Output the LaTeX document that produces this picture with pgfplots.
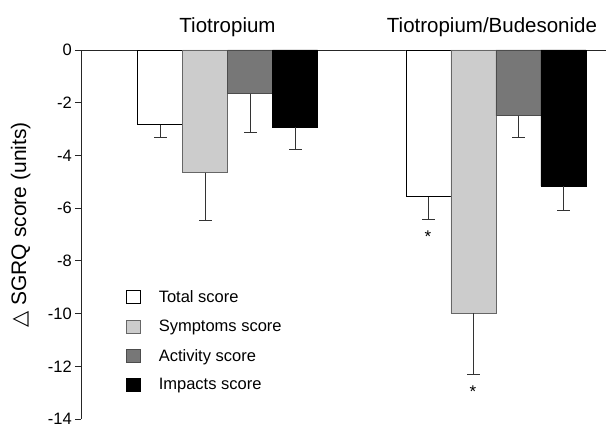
\documentclass[border=0pt]{standalone}
\usepackage{pgfplots}
\pgfplotsset{compat=1.18}
\usepackage{fontspec}
\setmainfont{Liberation Sans}
\newfontfamily\dejavu{DejaVu Sans}
\definecolor{lgray}{HTML}{CCCCCC}
\definecolor{dgray}{HTML}{777777}
\begin{document}
\begin{tikzpicture}[x=1pt,y=1pt]
\useasboundingbox (0,0) rectangle (606,428);
\begin{axis}[
  at={(81pt,9pt)}, anchor=south west, scale only axis,
  width=525pt, height=369pt,
  xmin=0, xmax=11.6667, ymin=-14, ymax=0,
  clip=false,
  axis x line*=top, axis y line*=left,
  axis line style={-, line width=0.8pt, black!85},
  xtick=\empty, ytick={-14,-12,...,0},
  tick align=outside, major tick length=6pt,
  tick style={line width=0.8pt, black!85},
  /pgf/number format/assume math mode=true,
  yticklabel style={font=\fontsize{16.5}{18}\selectfont, inner xsep=3pt, inner ysep=0pt},
  ylabel={{\dejavu △} SGRQ score (units)},
  ylabel style={font=\fontsize{21}{23}\selectfont, at={(axis description cs:-0.115,0.526)}, anchor=center, rotate=0},
  legend image code/.code={\draw[#1,line width=0.6pt] (0pt,-6.5pt) rectangle (14pt,6.5pt);},
  legend style={at={(rel axis cs:0.0857,0.354)}, anchor=north west, draw=none, fill=none,
    inner sep=0pt, font=\fontsize{16.5}{18}\selectfont, row sep=12pt,
    /tikz/every odd column/.append style={column sep=16pt}},
  legend cell align=left,
  error bars/error bar style={line width=0.8pt, black!80},
  error bars/error mark options={rotate=90, mark size=6.5pt, line width=0.8pt, black!80},
]
\addplot[ybar, bar width=45pt, bar shift=0pt, fill=white, draw=black, line width=0.8pt,
  error bars/.cd, y dir=minus, y explicit]
  coordinates {(1.756,-2.83) +- (0,0.48) (7.722,-5.57) +- (0,0.85)};
\addlegendentry{Total score}
\addplot[ybar, bar width=45pt, bar shift=0pt, fill=lgray, draw=black!60, line width=0.8pt,
  error bars/.cd, y dir=minus, y explicit]
  coordinates {(2.756,-4.65) +- (0,1.8) (8.722,-9.99) +- (0,2.31)};
\addlegendentry{Symptoms score}
\addplot[ybar, bar width=45pt, bar shift=0pt, fill=dgray, draw=black!70, line width=0.8pt,
  error bars/.cd, y dir=minus, y explicit]
  coordinates {(3.756,-1.66) +- (0,1.46) (9.722,-2.50) +- (0,0.80)};
\addlegendentry{Activity score}
\addplot[ybar, bar width=45pt, bar shift=0pt, fill=black, draw=black, line width=0.8pt,
  error bars/.cd, y dir=minus, y explicit]
  coordinates {(4.756,-2.92) +- (0,0.87) (10.722,-5.16) +- (0,0.94)};
\addlegendentry{Impacts score}
\node[anchor=base, yshift=17pt, font=\fontsize{20.5}{22}\selectfont] at (axis cs:3.256,0) {Tiotropium};
\node[anchor=base, yshift=17pt, font=\fontsize{20.5}{22}\selectfont] at (axis cs:9.133,0) {Tiotropium/Budesonide};
\node[inner sep=0pt, font=\fontsize{17}{17}\selectfont] at (axis cs:7.711,-7.08) {*};
\node[inner sep=0pt, font=\fontsize{17}{17}\selectfont] at (axis cs:8.711,-12.97) {*};
\end{axis}
\end{tikzpicture}
\end{document}
